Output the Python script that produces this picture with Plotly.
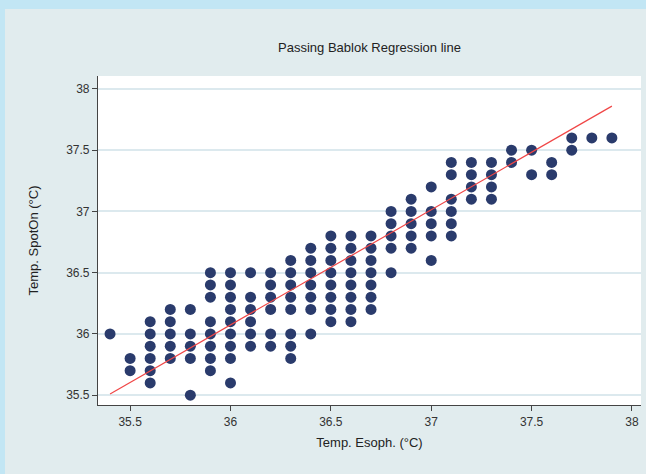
import plotly.graph_objects as go

# Esophageal temperature columns and the SpotOn readings observed at each
esoph_values = [35.4, 35.5, 35.6, 35.7, 35.8, 35.9, 36.0, 36.1, 36.2, 36.3,
                36.4, 36.5, 36.6, 36.7, 36.8, 36.9, 37.0, 37.1, 37.2, 37.3,
                37.4, 37.5, 37.6, 37.7, 37.8, 37.9]
spoton_by_esoph = [
    [36.0],
    [35.7, 35.8],
    [35.6, 35.7, 35.8, 35.9, 36.0, 36.1],
    [35.8, 35.9, 36.0, 36.1, 36.2],
    [35.5, 35.8, 35.9, 36.0, 36.2],
    [35.7, 35.8, 35.9, 36.0, 36.1, 36.3, 36.4, 36.5],
    [35.6, 35.8, 35.9, 36.0, 36.1, 36.2, 36.3, 36.4, 36.5],
    [35.9, 36.0, 36.1, 36.2, 36.3, 36.5],
    [35.9, 36.0, 36.2, 36.3, 36.4, 36.5],
    [35.8, 35.9, 36.0, 36.2, 36.3, 36.4, 36.5, 36.6],
    [36.0, 36.2, 36.3, 36.4, 36.5, 36.6, 36.7],
    [36.1, 36.2, 36.3, 36.4, 36.5, 36.6, 36.7, 36.8],
    [36.1, 36.2, 36.3, 36.4, 36.5, 36.6, 36.7, 36.8],
    [36.2, 36.3, 36.4, 36.5, 36.6, 36.7, 36.8],
    [36.5, 36.7, 36.8, 36.9, 37.0],
    [36.7, 36.8, 36.9, 37.0, 37.1],
    [36.6, 36.8, 36.9, 37.0, 37.2],
    [36.8, 36.9, 37.0, 37.1, 37.3, 37.4],
    [37.1, 37.2, 37.3, 37.4],
    [37.1, 37.2, 37.3, 37.4],
    [37.4, 37.5],
    [37.3, 37.5],
    [37.3, 37.4],
    [37.5, 37.6],
    [37.6],
    [37.6],
]

# Passing-Bablok regression line end points
line_x = [35.4, 37.9]
line_y = [35.51, 37.86]

tick_vals = [35.5, 36, 36.5, 37, 37.5, 38]
tick_text = ["35.5", "36", "36.5", "37", "37.5", "38"]

xs, ys = [], []
for xv, col in zip(esoph_values, spoton_by_esoph):
    for yv in col:
        xs.append(xv)
        ys.append(yv)

fig = go.Figure()
fig.add_trace(go.Scatter(
    x=xs, y=ys, mode="markers",
    marker=dict(color="#2a3b6c", size=11, line=dict(width=0)),
    showlegend=False, hoverinfo="x+y"))
fig.add_trace(go.Scatter(
    x=line_x, y=line_y, mode="lines",
    line=dict(color="#f04646", width=1.2),
    showlegend=False))

font_family = "Liberation Sans, Arial, sans-serif"

fig.update_layout(
    width=646, height=474,
    margin=dict(l=98, r=5, t=76, b=69),
    paper_bgcolor="#e1ecee",
    plot_bgcolor="#ffffff",
    font=dict(family=font_family, size=12, color="#333333"),
    title=dict(text="Passing Bablok Regression line",
               x=0.5, xref="paper", y=1 - 47 / 474, yanchor="middle",
               font=dict(size=13, color="#222222")),
    xaxis=dict(range=[35.34, 38.045], tickvals=tick_vals, ticktext=tick_text,
               showgrid=False, zeroline=False,
               showline=True, linecolor="#444444", linewidth=1.2,
               ticks="outside", ticklen=5, tickcolor="#444444",
               tickfont=dict(size=12, color="#333333"),
               title=dict(text="Temp. Esoph. (°C)", standoff=10,
                          font=dict(size=13, color="#222222"))),
    yaxis=dict(range=[35.42, 38.106], tickvals=tick_vals, ticktext=tick_text,
               showgrid=True, gridcolor="#dce9ee", gridwidth=2,
               zeroline=False,
               showline=True, linecolor="#444444", linewidth=1.2,
               ticks="outside", ticklen=5, tickcolor="#444444",
               tickfont=dict(size=12, color="#333333"),
               title=dict(text="Temp. SpotOn (°C)", standoff=24,
                          font=dict(size=13, color="#222222"))),
    shapes=[
        # light blue outer strips (top and left)
        dict(type="rect", xref="paper", yref="paper",
             x0=-0.3, x1=1.1, y0=(405 - 9) / 329, y1=1.4,
             fillcolor="#c2e6f4", line=dict(width=0), layer="below"),
        dict(type="rect", xref="paper", yref="paper",
             x0=-0.3, x1=(5 - 98) / 543, y0=-0.4, y1=1.4,
             fillcolor="#c2e6f4", line=dict(width=0), layer="below"),
    ],
)

fig.write_html(
    "out.html",
    config={"displayModeBar": False},
    post_script="document.body.style.margin='0';document.body.style.overflow='hidden';",
)
